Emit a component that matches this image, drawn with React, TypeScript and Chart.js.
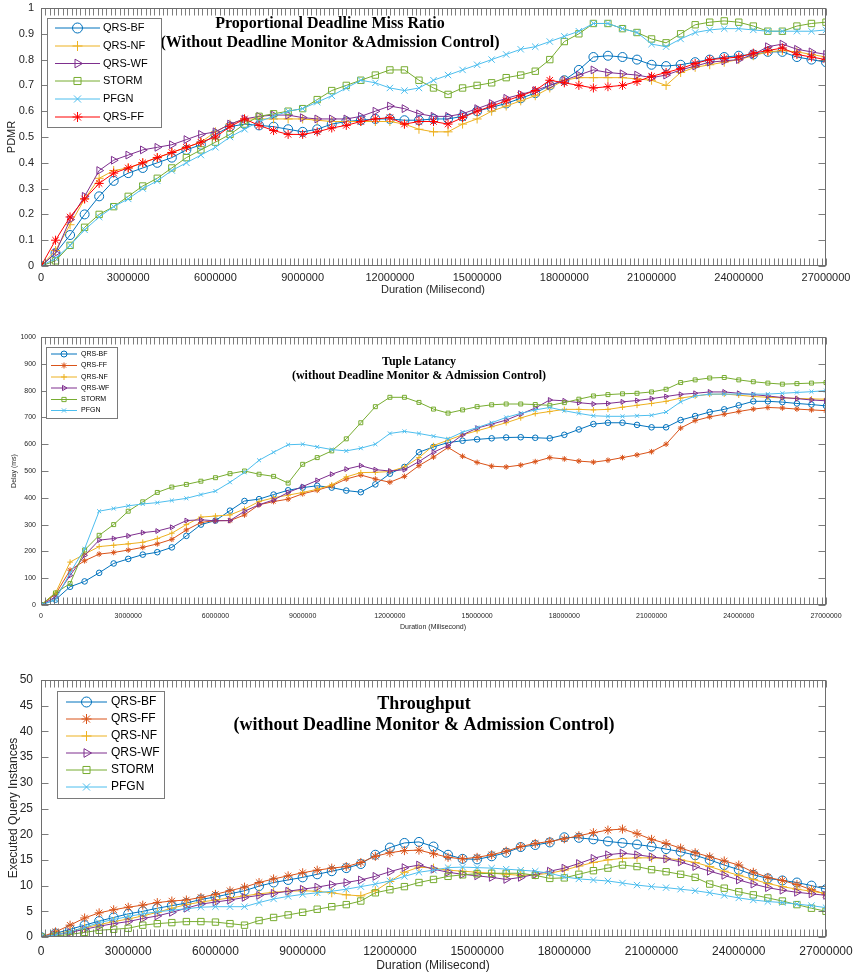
import React, { useEffect, useRef } from 'react';
import { Chart, registerables } from 'chart.js';
import { drawPoint } from 'chart.js/helpers';

Chart.register(...registerables);

// ---------------- DATA ----------------
const DURATION_MS = [
  0, 500000, 1000000, 1500000, 2000000, 2500000, 3000000, 3500000, 4000000, 4500000,
  5000000, 5500000, 6000000, 6500000, 7000000, 7500000, 8000000, 8500000, 9000000, 9500000,
  10000000, 10500000, 11000000, 11500000, 12000000, 12500000, 13000000, 13500000, 14000000, 14500000,
  15000000, 15500000, 16000000, 16500000, 17000000, 17500000, 18000000, 18500000, 19000000, 19500000,
  20000000, 20500000, 21000000, 21500000, 22000000, 22500000, 23000000, 23500000, 24000000, 24500000,
  25000000, 25500000, 26000000, 26500000, 27000000,
];

const X_TICKS = [0, 3000000, 6000000, 9000000, 12000000, 15000000, 18000000, 21000000, 24000000, 27000000];
const PDMR_TICKS = [0, 0.1, 0.2, 0.3, 0.4, 0.5, 0.6, 0.7, 0.8, 0.9, 1];
const DELAY_TICKS = [0, 100, 200, 300, 400, 500, 600, 700, 800, 900, 1000];
const THROUGHPUT_TICKS = [0, 5, 10, 15, 20, 25, 30, 35, 40, 45, 50];

// Panel 1: Proportional Deadline Miss Ratio
const PDMR_QRS_BF = [0, 0.05, 0.12, 0.2, 0.27, 0.33, 0.36, 0.38, 0.4, 0.42, 0.45, 0.47, 0.51, 0.54, 0.55, 0.545, 0.54, 0.53, 0.52, 0.53, 0.55, 0.56, 0.565, 0.57, 0.57, 0.565, 0.565, 0.57, 0.57, 0.58, 0.6, 0.615, 0.63, 0.65, 0.67, 0.7, 0.72, 0.76, 0.81, 0.815, 0.81, 0.8, 0.78, 0.775, 0.78, 0.79, 0.8, 0.81, 0.815, 0.82, 0.83, 0.83, 0.81, 0.8, 0.79];
const PDMR_QRS_NF = [0, 0.06, 0.16, 0.26, 0.34, 0.37, 0.38, 0.4, 0.42, 0.44, 0.46, 0.48, 0.52, 0.55, 0.57, 0.57, 0.57, 0.57, 0.57, 0.565, 0.56, 0.56, 0.56, 0.56, 0.56, 0.55, 0.53, 0.52, 0.52, 0.55, 0.57, 0.6, 0.62, 0.64, 0.66, 0.69, 0.72, 0.73, 0.73, 0.73, 0.73, 0.725, 0.72, 0.7, 0.75, 0.77, 0.78, 0.79, 0.8, 0.815, 0.83, 0.835, 0.83, 0.82, 0.81];
const PDMR_QRS_WF = [0, 0.05, 0.18, 0.27, 0.37, 0.41, 0.43, 0.45, 0.46, 0.47, 0.49, 0.51, 0.52, 0.55, 0.57, 0.58, 0.585, 0.585, 0.575, 0.57, 0.57, 0.57, 0.58, 0.6, 0.62, 0.61, 0.59, 0.58, 0.58, 0.59, 0.61, 0.63, 0.65, 0.665, 0.68, 0.7, 0.72, 0.74, 0.76, 0.75, 0.745, 0.74, 0.73, 0.74, 0.76, 0.775, 0.79, 0.795, 0.8, 0.82, 0.85, 0.86, 0.84, 0.83, 0.82];
const PDMR_STORM = [0, 0.02, 0.08, 0.15, 0.2, 0.23, 0.27, 0.31, 0.34, 0.38, 0.42, 0.45, 0.48, 0.51, 0.55, 0.58, 0.59, 0.6, 0.61, 0.645, 0.68, 0.7, 0.72, 0.74, 0.76, 0.76, 0.72, 0.69, 0.665, 0.69, 0.7, 0.71, 0.73, 0.74, 0.755, 0.8, 0.87, 0.9, 0.94, 0.94, 0.92, 0.905, 0.88, 0.865, 0.9, 0.935, 0.945, 0.95, 0.945, 0.93, 0.91, 0.91, 0.93, 0.94, 0.945];
const PDMR_PFGN = [0, 0.03, 0.08, 0.14, 0.19, 0.23, 0.26, 0.3, 0.33, 0.37, 0.4, 0.43, 0.46, 0.5, 0.53, 0.56, 0.58, 0.6, 0.61, 0.635, 0.66, 0.69, 0.72, 0.71, 0.69, 0.68, 0.69, 0.72, 0.74, 0.76, 0.78, 0.8, 0.82, 0.84, 0.85, 0.87, 0.89, 0.91, 0.94, 0.94, 0.92, 0.905, 0.86, 0.85, 0.88, 0.905, 0.915, 0.92, 0.92, 0.915, 0.91, 0.91, 0.91, 0.91, 0.915];
const PDMR_QRS_FF = [0, 0.1, 0.19, 0.26, 0.32, 0.36, 0.38, 0.4, 0.42, 0.44, 0.46, 0.48, 0.5, 0.54, 0.57, 0.545, 0.525, 0.51, 0.51, 0.52, 0.535, 0.545, 0.56, 0.57, 0.575, 0.55, 0.56, 0.56, 0.55, 0.575, 0.6, 0.62, 0.64, 0.66, 0.68, 0.72, 0.71, 0.7, 0.69, 0.695, 0.7, 0.715, 0.735, 0.75, 0.765, 0.785, 0.8, 0.805, 0.81, 0.825, 0.835, 0.845, 0.82, 0.81, 0.8];

// Panel 2: Tuple Latency (ms)
const DELAY_QRS_BF = [0, 20, 68, 88, 120, 155, 172, 188, 197, 215, 258, 300, 315, 352, 388, 395, 412, 428, 438, 445, 438, 427, 421, 450, 490, 515, 570, 590, 606, 613, 618, 622, 625, 626, 624, 622, 635, 655, 675, 680, 680, 672, 663, 663, 690, 705, 720, 730, 745, 760, 760, 757, 752, 748, 743];
const DELAY_QRS_FF = [0, 40, 130, 165, 190, 196, 205, 215, 228, 245, 280, 308, 315, 315, 336, 374, 386, 395, 415, 428, 445, 470, 485, 470, 458, 480, 520, 552, 588, 555, 532, 518, 515, 522, 535, 550, 545, 537, 533, 540, 550, 560, 572, 600, 660, 688, 702, 712, 722, 731, 737, 735, 731, 728, 725];
const DELAY_QRS_NF = [0, 45, 160, 190, 218, 223, 228, 234, 248, 268, 300, 328, 332, 336, 358, 386, 400, 410, 420, 432, 448, 478, 494, 495, 498, 515, 550, 595, 615, 635, 650, 665, 680, 698, 714, 722, 730, 730, 728, 730, 738, 745, 752, 760, 772, 780, 786, 787, 783, 778, 775, 773, 771, 769, 768];
const DELAY_QRS_WF = [0, 30, 110, 185, 242, 248, 258, 270, 276, 290, 315, 318, 314, 315, 350, 374, 392, 420, 442, 465, 488, 507, 520, 505, 500, 505, 535, 570, 595, 635, 660, 675, 690, 712, 735, 765, 762, 755, 750, 752, 758, 763, 770, 778, 786, 790, 795, 795, 790, 785, 780, 774, 770, 765, 762];
const DELAY_STORM = [0, 45, 80, 205, 260, 300, 350, 385, 420, 440, 450, 462, 475, 490, 500, 488, 480, 455, 525, 550, 575, 620, 680, 740, 775, 775, 756, 731, 716, 728, 740, 747, 750, 750, 748, 745, 755, 768, 780, 785, 788, 790, 795, 805, 830, 840, 847, 849, 840, 833, 828, 824, 826, 828, 830];
const DELAY_PFGN = [0, 20, 120, 210, 350, 360, 370, 377, 382, 390, 398, 412, 425, 458, 495, 540, 570, 598, 600, 590, 580, 575, 585, 600, 640, 648, 640, 630, 620, 645, 662, 680, 700, 715, 728, 737, 725, 715, 706, 704, 704, 706, 708, 720, 758, 780, 787, 787, 787, 787, 787, 790, 793, 796, 800];

// Panel 3: Throughput (executed query instances)
const TP_QRS_BF = [0, 0.7, 1.5, 2.3, 3.1, 3.8, 4.5, 5.0, 5.6, 6.1, 6.6, 7.3, 7.8, 8.4, 9.0, 9.9, 10.6, 11.1, 11.6, 12.2, 12.8, 13.4, 14.2, 16.0, 17.4, 18.3, 18.5, 17.6, 16.0, 15.2, 15.1, 15.7, 16.4, 17.5, 17.9, 18.4, 19.4, 19.3, 19.0, 18.6, 18.3, 18.0, 17.6, 17.1, 16.6, 15.9, 15.0, 14.0, 13.1, 12.1, 11.4, 11.0, 10.6, 10.0, 9.3];
const TP_QRS_FF = [0, 1.0, 2.3, 3.7, 4.7, 5.3, 5.8, 6.2, 6.7, 7.0, 7.2, 7.7, 8.3, 9.0, 9.7, 10.6, 11.3, 11.9, 12.5, 13.0, 13.4, 13.7, 14.5, 15.7, 16.4, 16.8, 16.9, 16.2, 15.5, 15.2, 15.5, 16.0, 16.7, 17.6, 18.2, 18.6, 19.1, 19.7, 20.3, 20.8, 21.0, 20.1, 19.0, 18.2, 17.3, 16.4, 15.6, 14.8, 14.0, 12.6, 11.6, 11.0, 10.2, 9.2, 8.3];
const TP_QRS_NF = [0, 0.5, 1.1, 1.8, 2.4, 3.0, 3.5, 4.1, 4.8, 5.6, 6.3, 6.8, 7.2, 7.6, 8.0, 8.4, 8.7, 8.9, 9.0, 8.9, 8.6, 8.2, 8.0, 9.0, 10.8, 12.6, 13.6, 13.4, 13.0, 12.8, 12.6, 12.4, 12.2, 12.0, 12.1, 12.4, 13.0, 13.8, 14.5, 15.0, 15.3, 15.4, 15.4, 15.3, 15.0, 14.5, 13.7, 12.8, 12.0, 11.2, 10.4, 9.8, 9.3, 8.9, 8.5];
const TP_QRS_WF = [0, 0.4, 0.9, 1.5, 2.1, 2.6, 3.0, 3.6, 4.1, 4.8, 5.6, 6.4, 6.8, 7.2, 7.7, 8.1, 8.5, 8.9, 9.3, 9.7, 10.2, 10.6, 11.1, 11.8, 12.7, 13.5, 14.0, 13.2, 12.6, 12.2, 11.9, 11.6, 11.2, 11.6, 12.2, 12.8, 13.4, 14.3, 15.3, 16.0, 16.3, 16.0, 15.6, 15.2, 14.6, 13.7, 12.8, 12.0, 11.1, 10.3, 9.6, 9.1, 8.7, 8.4, 8.1];
const TP_STORM = [0, 0.2, 0.5, 0.9, 1.3, 1.5, 1.7, 2.3, 2.6, 2.8, 3.0, 3.0, 2.9, 2.6, 2.3, 3.2, 3.8, 4.3, 4.8, 5.4, 5.9, 6.3, 7.0, 8.6, 9.2, 9.8, 10.6, 11.2, 11.8, 12.1, 12.3, 12.4, 12.4, 12.4, 12.0, 11.4, 11.5, 12.2, 12.9, 13.4, 14.0, 13.7, 13.1, 12.7, 12.2, 11.6, 10.3, 9.5, 8.8, 8.2, 7.6, 7.0, 6.3, 5.6, 5.0];
const TP_PFGN = [0, 0.4, 1.0, 1.9, 2.8, 3.4, 4.0, 4.5, 4.9, 5.2, 5.5, 5.8, 5.9, 5.9, 5.9, 6.7, 7.4, 7.9, 8.3, 8.6, 8.9, 9.3, 9.8, 10.3, 10.9, 11.8, 12.6, 13.0, 13.5, 13.6, 13.5, 13.4, 13.2, 13.0, 12.8, 12.4, 11.7, 11.3, 11.1, 10.9, 10.5, 10.1, 9.8, 9.6, 9.3, 9.0, 8.6, 8.1, 7.6, 7.2, 6.9, 6.7, 6.4, 6.1, 5.7];

// ---------------- STYLE ----------------
const C_BF = '#0072BD';
const C_FF = '#D95319';
const C_FF_RED = '#FF0000';
const C_NF = '#EDB120';
const C_WF = '#7E2F8E';
const C_STORM = '#77AC30';
const C_PFGN = '#4DBEEE';

type SeriesDef = { label: string; values: number[]; color: string; style: string; rotation?: number };

type PanelDef = {
  key: string;
  top: number;
  height: number;
  padTop: number;
  padRight: number;
  yWidth: number;
  xHeight: number;
  yTicks: number[];
  tickFontSize: number;
  yTickPad: number;
  xTickPad: number;
  markerR: number;
  tickLen: number;
  xMinorStep: number;
  titleX: number;
  titleFontSize: number;
  titles: { text: string; y: number }[];
  yTitle: { text: string; x: number; y: number; size: number };
  xTitle: { text: string; x: number; y: number; size: number };
  legend: { x0: number; y0: number; x1: number; y1: number; rows: number[]; lineX0: number; lineX1: number; textX: number; size: number; markerR: number };
  series: SeriesDef[];
};

const PANELS: PanelDef[] = [
  {
    key: 'pdmr', top: 0, height: 300, padTop: 8, padRight: 28, yWidth: 41, xHeight: 34,
    yTicks: PDMR_TICKS, tickFontSize: 11, yTickPad: 7, xTickPad: 5, markerR: 4.5, tickLen: 7, xMinorStep: 150000,
    titleX: 330, titleFontSize: 16,
    titles: [
      { text: 'Proportional Deadline Miss Ratio', y: 24 },
      { text: '(Without Deadline Monitor &Admission Control)', y: 43 },
    ],
    yTitle: { text: 'PDMR', x: 12, y: 137, size: 11 },
    xTitle: { text: 'Duration (Milisecond)', x: 433, y: 290, size: 11 },
    legend: { x0: 47, y0: 18, x1: 161, y1: 127, rows: [28, 46, 63.5, 81, 99, 117], lineX0: 55, lineX1: 100, textX: 103, size: 11, markerR: 5 },
    series: [
      { label: 'QRS-BF', values: PDMR_QRS_BF, color: C_BF, style: 'circle' },
      { label: 'QRS-NF', values: PDMR_QRS_NF, color: C_NF, style: 'cross' },
      { label: 'QRS-WF', values: PDMR_QRS_WF, color: C_WF, style: 'triangle', rotation: 90 },
      { label: 'STORM', values: PDMR_STORM, color: C_STORM, style: 'rect' },
      { label: 'PFGN', values: PDMR_PFGN, color: C_PFGN, style: 'crossRot' },
      { label: 'QRS-FF', values: PDMR_QRS_FF, color: C_FF_RED, style: 'star' },
    ],
  },
  {
    key: 'delay', top: 300, height: 340, padTop: 37, padRight: 28, yWidth: 41, xHeight: 35,
    yTicks: DELAY_TICKS, tickFontSize: 7, yTickPad: 5, xTickPad: 7, markerR: 2.8, tickLen: 7, xMinorStep: 150000,
    titleX: 419, titleFontSize: 12,
    titles: [
      { text: 'Tuple Latancy', y: 62 },
      { text: '(without Deadline Monitor & Admission Control)', y: 76 },
    ],
    yTitle: { text: 'Delay (ms)', x: 14, y: 171, size: 7 },
    xTitle: { text: 'Duration (Milisecond)', x: 433, y: 327, size: 7 },
    legend: { x0: 46, y0: 47, x1: 117, y1: 118, rows: [54, 65.5, 77, 88, 99.5, 110.5], lineX0: 51, lineX1: 77, textX: 81, size: 7, markerR: 3 },
    series: [
      { label: 'QRS-BF', values: DELAY_QRS_BF, color: C_BF, style: 'circle' },
      { label: 'QRS-FF', values: DELAY_QRS_FF, color: C_FF, style: 'star' },
      { label: 'QRS-NF', values: DELAY_QRS_NF, color: C_NF, style: 'cross' },
      { label: 'QRS-WF', values: DELAY_QRS_WF, color: C_WF, style: 'triangle', rotation: 90 },
      { label: 'STORM', values: DELAY_STORM, color: C_STORM, style: 'rect' },
      { label: 'PFGN', values: DELAY_PFGN, color: C_PFGN, style: 'crossRot' },
    ],
  },
  {
    key: 'throughput', top: 640, height: 336, padTop: 40, padRight: 28, yWidth: 41, xHeight: 39,
    yTicks: THROUGHPUT_TICKS, tickFontSize: 12, yTickPad: 8, xTickPad: 7, markerR: 4.5, tickLen: 7, xMinorStep: 150000,
    titleX: 424, titleFontSize: 18,
    titles: [
      { text: 'Throughput', y: 64 },
      { text: '(without Deadline Monitor & Admission Control)', y: 85 },
    ],
    yTitle: { text: 'Executed Query Instances', x: 14, y: 168, size: 12 },
    xTitle: { text: 'Duration (Milisecond)', x: 433, y: 326, size: 12 },
    legend: { x0: 57, y0: 51, x1: 164, y1: 158, rows: [62, 79, 96, 113, 130, 147], lineX0: 66, lineX1: 107, textX: 111, size: 12, markerR: 5 },
    series: [
      { label: 'QRS-BF', values: TP_QRS_BF, color: C_BF, style: 'circle' },
      { label: 'QRS-FF', values: TP_QRS_FF, color: C_FF, style: 'star' },
      { label: 'QRS-NF', values: TP_QRS_NF, color: C_NF, style: 'cross' },
      { label: 'QRS-WF', values: TP_QRS_WF, color: C_WF, style: 'triangle', rotation: 90 },
      { label: 'STORM', values: TP_STORM, color: C_STORM, style: 'rect' },
      { label: 'PFGN', values: TP_PFGN, color: C_PFGN, style: 'crossRot' },
    ],
  },
];

const SANS = '"Liberation Sans", Arial, sans-serif';
const SERIF = '"Liberation Serif", "Times New Roman", serif';
const X_MIN = X_TICKS[0];
const X_MAX = X_TICKS[X_TICKS.length - 1];

function fmt(v: number | string) {
  return String(+Number(v).toFixed(6));
}

function framePlugin(p: PanelDef) {
  return {
    id: 'matlabFrame' + p.key,
    afterDraw(chart: any) {
      const ctx = chart.ctx as CanvasRenderingContext2D;
      const a = chart.chartArea;
      const xs = chart.scales.x;
      const ys = chart.scales.y;
      ctx.save();
      const L = Math.round(a.left) + 0.5;
      const R = Math.round(a.right) - 0.5;
      const T = Math.round(a.top) + 0.5;
      const B = Math.round(a.bottom) - 0.5;

      // inward ticks
      ctx.strokeStyle = '#5a5a5a';
      ctx.lineWidth = 0.8;
      ctx.beginPath();
      for (let v = X_MIN; v <= X_MAX; v += p.xMinorStep) {
        const px = Math.round(xs.getPixelForValue(v)) + 0.5;
        ctx.moveTo(px, B);
        ctx.lineTo(px, B - p.tickLen);
        ctx.moveTo(px, T);
        ctx.lineTo(px, T + p.tickLen);
      }
      for (const t of p.yTicks) {
        const py = Math.round(ys.getPixelForValue(t)) + 0.5;
        ctx.moveTo(L, py);
        ctx.lineTo(L + p.tickLen, py);
        ctx.moveTo(R, py);
        ctx.lineTo(R - p.tickLen, py);
      }
      ctx.stroke();

      // box
      ctx.strokeStyle = '#6e6e6e';
      ctx.lineWidth = 1;
      ctx.strokeRect(L, T, R - L, B - T);

      // titles
      ctx.fillStyle = '#000';
      ctx.textAlign = 'center';
      ctx.textBaseline = 'middle';
      ctx.font = `bold ${p.titleFontSize}px ${SERIF}`;
      for (const t of p.titles) ctx.fillText(t.text, p.titleX, t.y);

      // axis titles
      ctx.fillStyle = '#262626';
      ctx.font = `${p.xTitle.size}px ${SANS}`;
      ctx.fillText(p.xTitle.text, p.xTitle.x, p.xTitle.y);
      ctx.save();
      ctx.translate(p.yTitle.x, p.yTitle.y);
      ctx.rotate(-Math.PI / 2);
      ctx.font = `${p.yTitle.size}px ${SANS}`;
      ctx.fillText(p.yTitle.text, 0, 0);
      ctx.restore();

      // legend
      const lg = p.legend;
      ctx.fillStyle = '#fff';
      ctx.fillRect(lg.x0, lg.y0, lg.x1 - lg.x0, lg.y1 - lg.y0);
      ctx.strokeStyle = '#7a7a7a';
      ctx.lineWidth = 1;
      ctx.strokeRect(lg.x0 + 0.5, lg.y0 + 0.5, lg.x1 - lg.x0, lg.y1 - lg.y0);
      p.series.forEach((s, i) => {
        const y = lg.rows[i];
        ctx.strokeStyle = s.color;
        ctx.lineWidth = 1;
        ctx.beginPath();
        ctx.moveTo(lg.lineX0, y);
        ctx.lineTo(lg.lineX1, y);
        ctx.stroke();
        ctx.fillStyle = 'rgba(0,0,0,0)';
        drawPoint(ctx, { pointStyle: s.style as any, rotation: s.rotation ?? 0, radius: lg.markerR, borderWidth: 1 }, (lg.lineX0 + lg.lineX1) / 2, y);
        ctx.fillStyle = '#000';
        ctx.font = `${lg.size}px ${SANS}`;
        ctx.textAlign = 'left';
        ctx.textBaseline = 'middle';
        ctx.fillText(s.label, lg.textX, y);
      });
      ctx.restore();
    },
  };
}

function buildConfig(p: PanelDef): any {
  const yMin = p.yTicks[0];
  const yMax = p.yTicks[p.yTicks.length - 1];
  return {
    type: 'line',
    data: {
      datasets: p.series.map((s, i) => ({
        label: s.label,
        data: DURATION_MS.map((x, j) => ({ x, y: s.values[j] })),
        borderColor: s.color,
        backgroundColor: 'rgba(0,0,0,0)',
        borderWidth: 1,
        pointStyle: s.style,
        pointRotation: s.rotation ?? 0,
        pointRadius: p.markerR,
        pointBorderWidth: 1,
        pointBorderColor: s.color,
        pointBackgroundColor: 'rgba(0,0,0,0)',
        tension: 0,
        fill: false,
        order: -i,
      })),
    },
    options: {
      animation: false,
      responsive: false,
      maintainAspectRatio: false,
      layout: { padding: { top: p.padTop, right: p.padRight, left: 0, bottom: 0 } },
      plugins: { legend: { display: false }, tooltip: { enabled: false }, title: { display: false } },
      events: [],
      scales: {
        x: {
          type: 'linear',
          min: X_MIN,
          max: X_MAX,
          afterBuildTicks: (s: any) => { s.ticks = X_TICKS.map((v) => ({ value: v })); },
          afterFit: (s: any) => { s.height = p.xHeight; s.paddingLeft = 0; s.paddingRight = 0; },
          ticks: {
            autoSkip: false,
            maxRotation: 0,
            minRotation: 0,
            padding: p.xTickPad,
            color: '#262626',
            font: { family: SANS, size: p.tickFontSize },
            callback: (v: any) => fmt(v),
          },
          grid: { display: false, drawTicks: false },
          border: { display: false },
        },
        y: {
          type: 'linear',
          min: yMin,
          max: yMax,
          afterBuildTicks: (s: any) => { s.ticks = p.yTicks.map((v) => ({ value: v })); },
          afterFit: (s: any) => { s.width = p.yWidth; s.paddingTop = 0; s.paddingBottom = 0; },
          ticks: {
            autoSkip: false,
            padding: p.yTickPad,
            color: '#262626',
            font: { family: SANS, size: p.tickFontSize },
            callback: (v: any) => fmt(v),
          },
          grid: { display: false, drawTicks: false },
          border: { display: false },
        },
      },
    },
    plugins: [framePlugin(p)],
  };
}

function ChartPanel({ panel }: { panel: PanelDef }) {
  const ref = useRef<HTMLCanvasElement>(null);
  useEffect(() => {
    if (!ref.current) return;
    const chart = new Chart(ref.current, buildConfig(panel));
    return () => chart.destroy();
  }, [panel]);
  return (
    <canvas
      ref={ref}
      width={854}
      height={panel.height}
      style={{ position: 'absolute', left: 0, top: panel.top, width: 854, height: panel.height, display: 'block' }}
    />
  );
}

export default function App() {
  return (
    <div style={{ position: 'absolute', left: 0, top: 0, width: 854, height: 976, background: '#fff', overflow: 'hidden' }}>
      {PANELS.map((p) => (
        <ChartPanel key={p.key} panel={p} />
      ))}
    </div>
  );
}
